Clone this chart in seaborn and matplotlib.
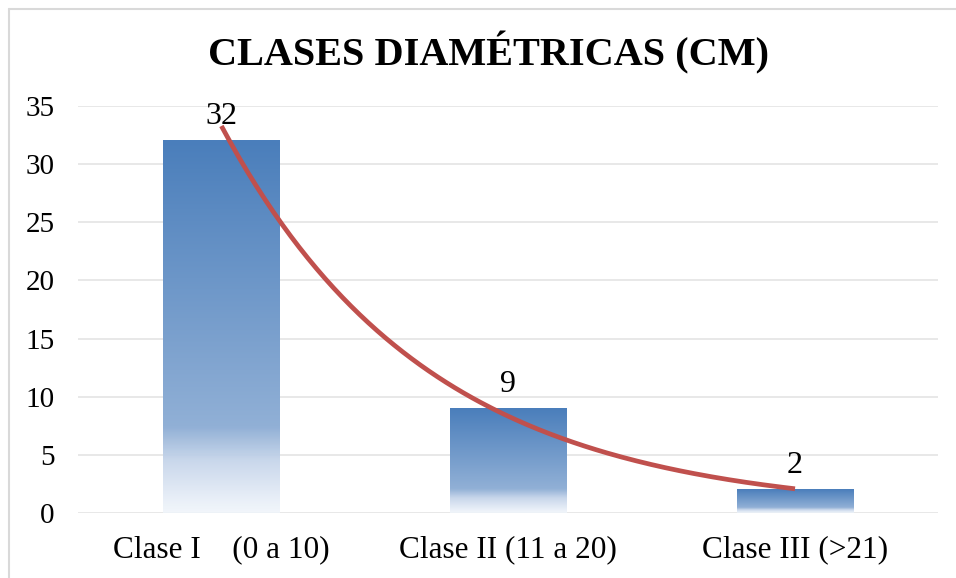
import numpy as np
import pandas as pd
import matplotlib
matplotlib.use("Agg")
import matplotlib.pyplot as plt
import seaborn as sns
from matplotlib.colors import LinearSegmentedColormap
from matplotlib.lines import Line2D

# Daten
clases = ["Clase I    (0 a 10)", "Clase II (11 a 20)", "Clase III (>21)"]
valores = [32, 9, 2]
titulo = "CLASES DIAMÉTRICAS (CM)"
y_ticks = [0, 5, 10, 15, 20, 25, 30, 35]

df = pd.DataFrame({"clase": clases, "n": valores})

sns.set_theme(style="white")
plt.rcParams["font.family"] = ["Liberation Serif", "DejaVu Serif"]

fig = plt.figure(figsize=(9.56, 5.78), dpi=100)
ax = fig.add_axes([0.0816, 0.1125, 0.9, 0.7041])

sns.barplot(data=df, x="clase", y="n", color="#4A7EBB", width=0.405, ax=ax, zorder=2)

# Verlauf wie in Excel: oben blau, unten fast weiss
verlauf = LinearSegmentedColormap.from_list("verlauf", [
    (0.00, (74/255, 126/255, 187/255, 1.0)),
    (0.77, (145/255, 176/255, 214/255, 1.0)),
    (0.86, (198/255, 213/255, 234/255, 0.95)),
    (1.00, (240/255, 245/255, 251/255, 0.85)),
])
grad = np.linspace(0, 1, 256).reshape(-1, 1)
for p in ax.patches:
    x0, w, h = p.get_x(), p.get_width(), p.get_height()
    ax.imshow(grad, cmap=verlauf, extent=[x0, x0 + w, 0, h], aspect="auto",
              origin="upper", zorder=2, interpolation="bicubic")
    p.set_visible(False)

# Datenbeschriftungen
for i, v in enumerate(valores):
    ax.annotate(str(v), (i, v), xytext=(0, 7), textcoords="offset points",
                ha="center", va="bottom", fontsize=23, color="black", zorder=4)

# Exponentielle Trendlinie
xpos = np.arange(len(valores))
b, ln_a = np.polyfit(xpos, np.log(valores), 1)
xs = np.linspace(0, len(valores) - 1, 200)
ax.plot(xs, np.exp(ln_a + b * xs), color="#C0504D", lw=3.4, zorder=3,
        solid_capstyle="butt")

ax.set_xlim(-0.5, len(valores) - 0.5)
ax.set_ylim(0, 35)
ax.set_yticks(y_ticks)
ax.yaxis.grid(True, color="#E6E6E6", lw=1.3, zorder=0)
ax.set_axisbelow(True)
for s in ax.spines.values():
    s.set_visible(False)
ax.set_xlabel("")
ax.set_ylabel("")
ax.tick_params(axis="y", labelsize=21, pad=17, length=0, colors="black")
ax.tick_params(axis="x", labelsize=22.5, pad=16, length=0, colors="black")

fig.text(0.511, 1 - 53 / 578, titulo, ha="center", va="center",
         fontsize=29, fontweight="bold", color="black")

# Rahmen des Diagramms (links und oben sichtbar)
fx, fy = 8.5 / 956, 1 - 8.5 / 578
fig.add_artist(Line2D([fx, fx], [0, fy], transform=fig.transFigure, color="#D9D9D9", lw=1.5))
fig.add_artist(Line2D([fx, 1], [fy, fy], transform=fig.transFigure, color="#D9D9D9", lw=1.5))

fig.savefig("out.png", dpi=100)
